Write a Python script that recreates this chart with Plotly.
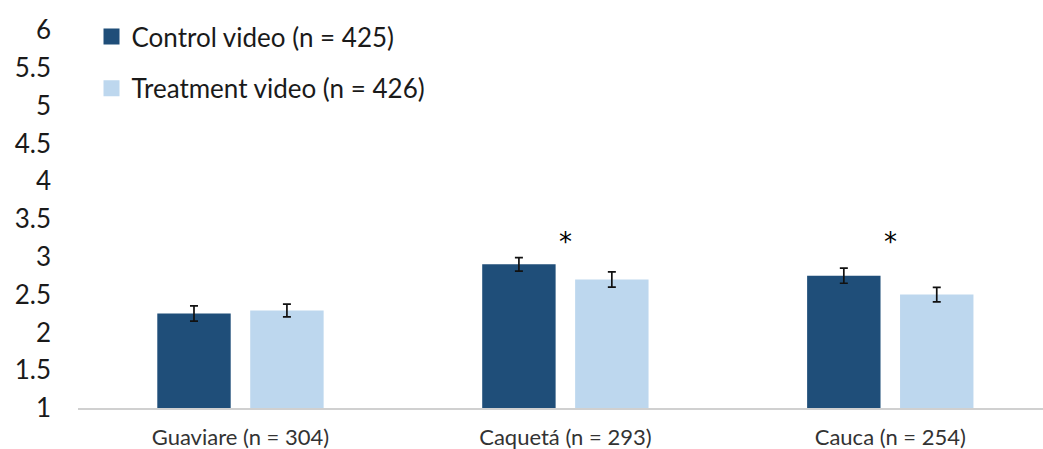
import plotly.graph_objects as go

categories = ["Guaviare (n = 304)", "Caquetá (n = 293)", "Cauca (n = 254)"]
series_names = ["Control video (n = 425)", "Treatment video (n = 426)"]
control_values = [2.25, 2.90, 2.75]
control_errors = [0.10, 0.09, 0.10]
treatment_values = [2.29, 2.70, 2.50]
treatment_errors = [0.085, 0.10, 0.095]
significant = [False, True, True]
star_y = 3.20
y_ticks = [1, 1.5, 2, 2.5, 3, 3.5, 4, 4.5, 5, 5.5, 6]
y_tick_labels = ["1", "1.5", "2", "2.5", "3", "3.5", "4", "4.5", "5", "5.5", "6"]

FONT = "Lato, 'Open Sans', sans-serif"
COLORS = ["#1f4e79", "#bdd7ee"]
BASE = 1

fig = go.Figure()
for name, vals, errs, col in zip(series_names,
                                 [control_values, treatment_values],
                                 [control_errors, treatment_errors], COLORS):
    fig.add_trace(go.Bar(
        name=name, x=categories, y=[v - BASE for v in vals], base=BASE,
        showlegend=False,
        marker=dict(color=col, line=dict(width=0)),
        error_y=dict(type="data", array=errs, color="#111111", thickness=1.7, width=4),
    ))

# legend entries with larger square swatches
for i, (name, col) in enumerate(zip(series_names, COLORS)):
    fig.add_trace(go.Scatter(
        name=name, x=[None], y=[None], mode="markers", legendgroup=str(i),
        marker=dict(symbol="square", size=16, color=col), showlegend=True,
        hoverinfo="skip",
    ))

for cat, sig in zip(categories, significant):
    if sig:
        fig.add_annotation(x=cat, y=star_y, text="*", showarrow=False,
                           font=dict(size=26, color="#000000", family="DejaVu Sans"),
                           yanchor="middle")

fig.update_layout(
    width=1043, height=449,
    margin=dict(l=78, r=0, t=30, b=41),
    paper_bgcolor="white", plot_bgcolor="white",
    barmode="group", bargap=0.428, bargroupgap=0.21,
    font=dict(family=FONT, color="#1a1a1a"),
    showlegend=True,
    legend=dict(x=0.014, y=1.045, xanchor="left", yanchor="top",
                font=dict(size=26, color="#1a1a1a", family=FONT),
                tracegroupgap=15, bgcolor="rgba(0,0,0,0)", itemsizing="trace"),
    xaxis=dict(range=[-0.5, 2.47], showgrid=False, showline=True,
               linecolor="#d0d0d0", linewidth=1.5, ticks="", automargin=False,
               tickfont=dict(size=22, color="#333333", family=FONT),
               ticklabelstandoff=9),
    yaxis=dict(range=[1, 6], tickvals=y_ticks, ticktext=y_tick_labels,
               showgrid=False, zeroline=False, showline=False, ticks="",
               automargin=False,
               tickfont=dict(size=26, color="#1a1a1a", family=FONT),
               ticklabelstandoff=26),
)

fig.write_html("out.html", config={"displayModeBar": False},
               post_script="document.body.style.margin='0';")
